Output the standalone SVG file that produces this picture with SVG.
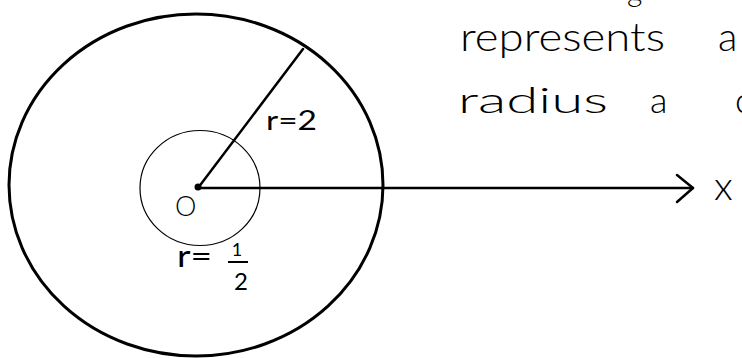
<svg xmlns="http://www.w3.org/2000/svg" width="742" height="358" viewBox="0 0 742 358">
<style>
text{font-family:Lato,"Liberation Sans",Arial,sans-serif;font-weight:300;fill:#000}
.lbl{font-weight:400}
.thick{fill:none;stroke:#000;stroke-width:3}
.thin{fill:none;stroke:#000;stroke-width:1.2}
.ln{fill:none;stroke:#000;stroke-width:2.5;stroke-linecap:round;stroke-linejoin:round}
</style>
<rect width="742" height="358" fill="#fff"/>
<g id="outer-circle"><ellipse class="thick" cx="196" cy="185" rx="187" ry="171"/></g>
<g id="inner-circle"><ellipse class="thin" cx="200" cy="188" rx="60" ry="57.5"/></g>
<g id="connectors">
<line class="ln" x1="198" y1="188" x2="303" y2="49"/>
<line class="ln" x1="198" y1="188" x2="693" y2="188"/>
<polyline class="ln" points="677,175 693,188 677,202"/>
</g>
<g id="origin">
<circle cx="198" cy="187" r="3.5" fill="#000"/>
<text x="175" y="216" font-size="27">O</text>
</g>
<g id="labels">
<text class="lbl" x="266" y="130" font-size="26" textLength="51" lengthAdjust="spacingAndGlyphs">r=2</text>
<text class="lbl" x="177" y="267" font-size="30" textLength="35" lengthAdjust="spacingAndGlyphs">r=</text>
<text class="lbl" x="237" y="256" font-size="18" text-anchor="middle">1</text>
<line x1="228" y1="262" x2="248" y2="262" stroke="#000" stroke-width="2"/>
<text class="lbl" x="241" y="290" font-size="24" text-anchor="middle">2</text>
<text x="714" y="200" font-size="40">x</text>
</g>
<g id="note">
<text x="627" y="2" font-size="30">g</text>
<text x="460" y="51" font-size="40" textLength="205" lengthAdjust="spacingAndGlyphs">represents</text>
<text x="718" y="51" font-size="40">a</text>
<text x="458" y="113" font-size="36" textLength="150" lengthAdjust="spacingAndGlyphs">radius</text>
<text x="650" y="113" font-size="36">a</text>
<text x="735" y="113" font-size="36">c</text>
</g>
</svg>
